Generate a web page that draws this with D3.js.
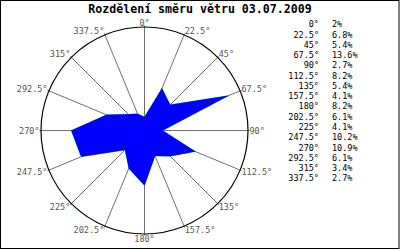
<!DOCTYPE html>
<html><head><meta charset="utf-8">
<script src="https://cdn.jsdelivr.net/npm/d3@7"></script>
<style>body{margin:0;background:#fff}svg{display:block}</style>
</head><body>
<svg id="c" width="400" height="250"></svg>
<script>
const title = "Rozdělení směru větru 03.07.2009";
const directions = [0, 22.5, 45, 67.5, 90, 112.5, 135, 157.5, 180, 202.5, 225, 247.5, 270, 292.5, 315, 337.5];
const values = [2, 6.8, 5.4, 13.6, 2.7, 8.2, 5.4, 4.1, 8.2, 6.1, 4.1, 10.2, 10.9, 6.1, 3.4, 2.7];
const valueLabels = ["2%", "6.8%", "5.4%", "13.6%", "2.7%", "8.2%", "5.4%", "4.1%", "8.2%", "6.1%", "4.1%", "10.2%", "10.9%", "6.1%", "3.4%", "2.7%"];
const dirLabels = ["0°", "22.5°", "45°", "67.5°", "90°", "112.5°", "135°", "157.5°", "180°", "202.5°", "225°", "247.5°", "270°", "292.5°", "315°", "337.5°"];

const svg = d3.select("#c");
const cx = 144.5, cy = 130.5, R = 103.5;
const r = d3.scaleLinear().domain([0, 15.4]).range([0, R]);
const mono = "'DejaVu Sans Mono', monospace";

// frame
svg.append("rect").attr("x", 0.5).attr("y", 0.5).attr("width", 398.5).attr("height", 248)
  .attr("fill", "none").attr("stroke", "#000");

// title
svg.append("text").attr("x", 200).attr("y", 13).attr("text-anchor", "middle")
  .attr("font-family", mono).attr("font-weight", "bold").attr("font-size", 11.6)
  .attr("fill", "#000").text(title);

const g = svg.append("g").attr("transform", `translate(${cx},${cy})`);
const rad = d => d * Math.PI / 180;

// radial grid lines
g.selectAll("line.grid").data(directions).join("line").attr("class", "grid")
  .attr("x1", 0).attr("y1", 0)
  .attr("x2", d => 105 * Math.sin(rad(d)))
  .attr("y2", d => -105 * Math.cos(rad(d)))
  .attr("stroke", "#707070").attr("stroke-width", 1);

// circle
g.append("circle").attr("r", R).attr("fill", "none").attr("stroke", "#000").attr("stroke-width", 1.2);

// data polygon
const line = d3.lineRadial().angle((d, i) => rad(directions[i])).radius(d => r(d)).curve(d3.curveLinearClosed);
g.append("path").datum(values).attr("d", line)
  .attr("fill", "#0000ff").attr("stroke", "#20e020").attr("stroke-width", 0.6);
g.append("path").datum(values).attr("d", line).attr("fill", "#0000ff").attr("stroke", "none");

// angle labels
const cap = 6.2;
g.selectAll("text.ang").data(directions).join("text").attr("class", "ang")
  .attr("x", d => 105 * Math.sin(rad(d)))
  .attr("y", d => -105 * Math.cos(rad(d)) + cap * (1 - Math.cos(rad(d))) / 2)
  .attr("text-anchor", d => { const s = Math.sin(rad(d)); return s > 0.01 ? "start" : (s < -0.01 ? "end" : "middle"); })
  .attr("font-family", mono).attr("font-size", 8.5).attr("fill", "#555")
  .text((d, i) => dirLabels[i]);

// legend
const ly = d3.scaleLinear().domain([0, 15]).range([27.3, 181.3]);
const leg = svg.append("g").attr("font-family", mono).attr("font-size", 8.5).attr("fill", "#000");
leg.selectAll("text.ld").data(dirLabels).join("text").attr("class", "ld")
  .attr("x", 319).attr("y", (d, i) => ly(i)).attr("text-anchor", "end").text(d => d);
leg.selectAll("text.lv").data(valueLabels).join("text").attr("class", "lv")
  .attr("x", 332).attr("y", (d, i) => ly(i)).attr("text-anchor", "start").text(d => d);
</script>
</body></html>
